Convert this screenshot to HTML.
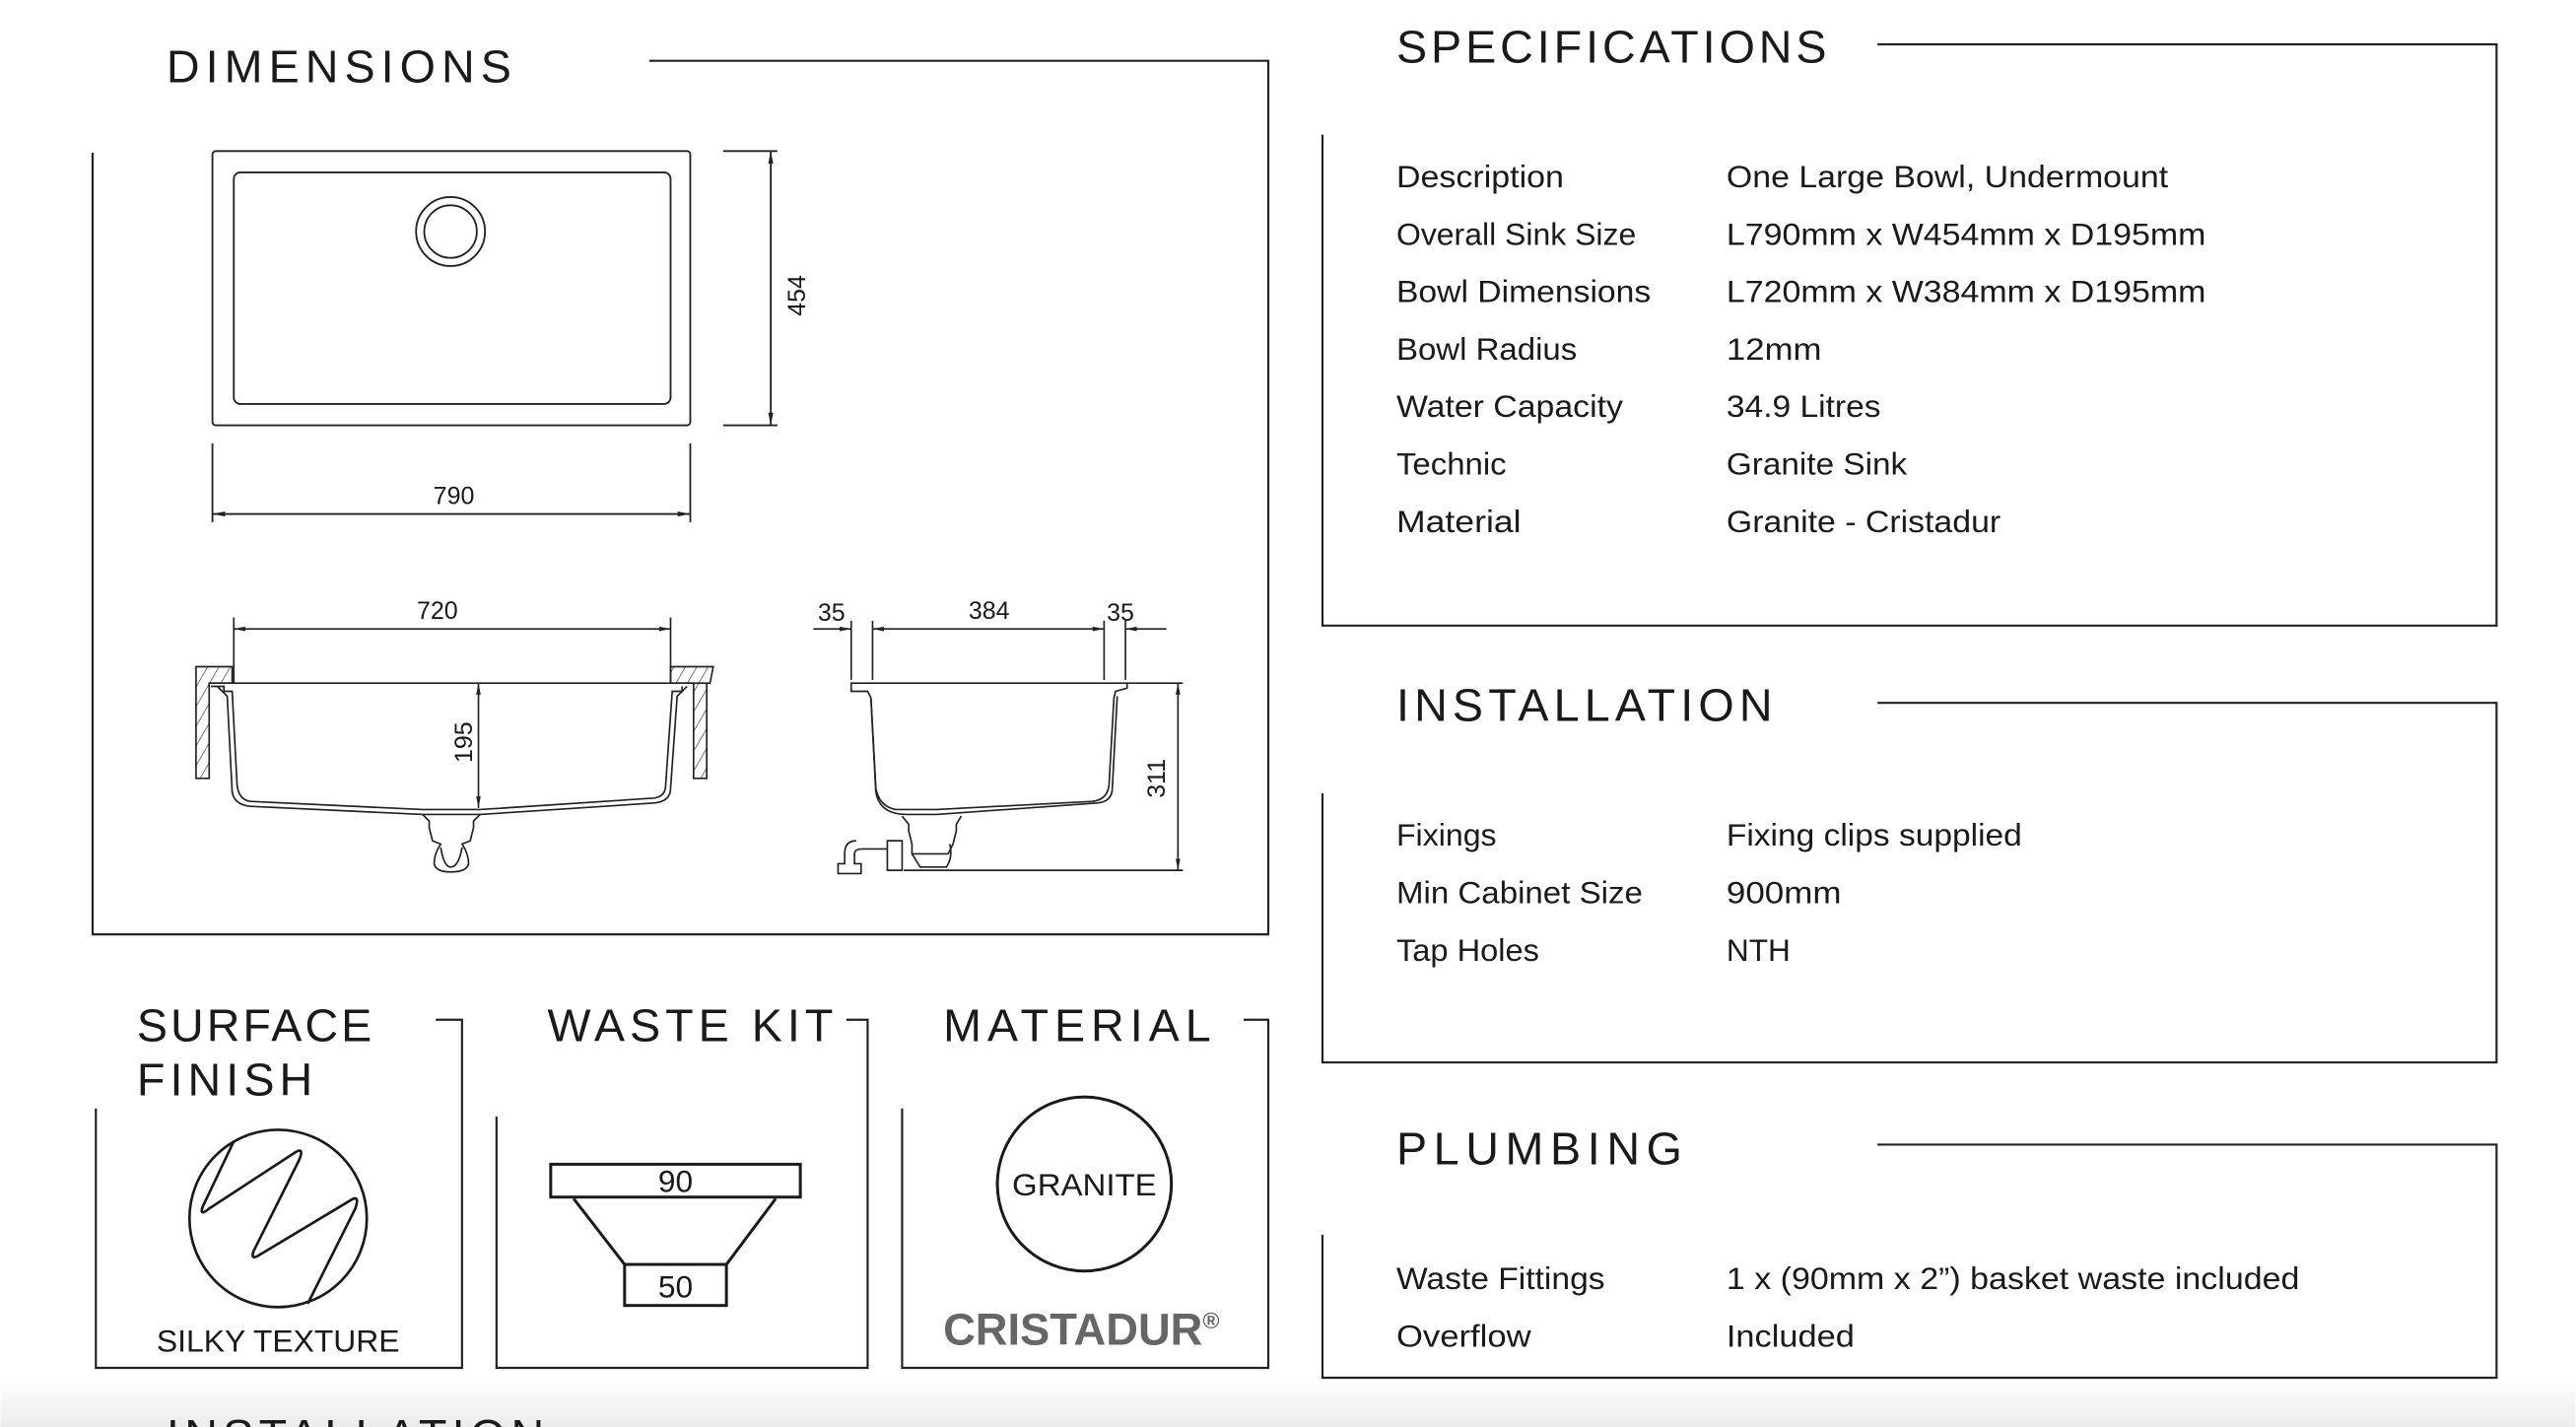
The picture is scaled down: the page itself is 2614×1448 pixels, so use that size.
<!DOCTYPE html>
<html><head><meta charset="utf-8"><style>
html,body{margin:0;padding:0;background:#fff;width:2614px;height:1448px;overflow:hidden}
svg{display:block}
text{font-family:"Liberation Sans",sans-serif;fill:#1a1a1a}
.h{font-size:28px}
.r{font-size:19px}
.d{font-size:15px}
</style></head><body>
<svg width="2614" height="1448" viewBox="0 0 1568 869" xmlns="http://www.w3.org/2000/svg">
<defs>
<linearGradient id="g" x1="0" y1="0" x2="0" y2="1"><stop offset="0" stop-color="#fff"/><stop offset="1" stop-color="#ececec"/></linearGradient>
<marker id="a" viewBox="0 0 10 10" refX="10" refY="5" markerWidth="7" markerHeight="7" orient="auto-start-reverse"><path d="M0,3 L10,5 L0,7 z" fill="#222"/></marker>
<pattern id="hat" width="6" height="6" patternUnits="userSpaceOnUse" patternTransform="rotate(30)"><line x1="0" y1="0" x2="0" y2="6" stroke="#333" stroke-width="0.8"/></pattern>
</defs>
<rect x="0" y="838" width="1568" height="31" fill="url(#g)"/>
<text x="101" y="884" class="h" textLength="230" lengthAdjust="spacing">INSTALLATION</text>

<g fill="none" stroke="#222" stroke-width="1.3">
<polyline points="395,37 772,37 772,569 56,569 56,93"/>
<polyline points="1143,27 1520,27 1520,381 805,381 805,82"/>
<polyline points="1143,428 1520,428 1520,647 805,647 805,483"/>
<polyline points="1143,697 1520,697 1520,839 805,839 805,752"/>
<polyline points="265,621 281,621 281,833 58,833 58,675"/>
<polyline points="515,621 528,621 528,833 302,833 302,680"/>
<polyline points="757,621 772,621 772,833 549,833 549,675"/>
</g>

<text x="101" y="50" class="h" textLength="210" lengthAdjust="spacing">DIMENSIONS</text>
<text x="850" y="38" class="h" textLength="262" lengthAdjust="spacing">SPECIFICATIONS</text>
<text x="850" y="439" class="h" textLength="229" lengthAdjust="spacing">INSTALLATION</text>
<text x="850" y="709" class="h" textLength="174" lengthAdjust="spacing">PLUMBING</text>
<text x="83" y="634" class="h" textLength="143" lengthAdjust="spacing">SURFACE</text>
<text x="83" y="667" class="h" textLength="107" lengthAdjust="spacing">FINISH</text>
<text x="333" y="634" class="h" textLength="174" lengthAdjust="spacing">WASTE KIT</text>
<text x="574" y="634" class="h" textLength="163" lengthAdjust="spacing">MATERIAL</text>

<g class="r">
<text x="850" y="114" class="r" textLength="102" lengthAdjust="spacingAndGlyphs">Description</text>
<text x="1051" y="114" class="r" textLength="269" lengthAdjust="spacingAndGlyphs">One Large Bowl, Undermount</text>
<text x="850" y="149" class="r" textLength="146" lengthAdjust="spacingAndGlyphs">Overall Sink Size</text>
<text x="1051" y="149" class="r" textLength="292" lengthAdjust="spacingAndGlyphs">L790mm x W454mm x D195mm</text>
<text x="850" y="184" class="r" textLength="155" lengthAdjust="spacingAndGlyphs">Bowl Dimensions</text>
<text x="1051" y="184" class="r" textLength="292" lengthAdjust="spacingAndGlyphs">L720mm x W384mm x D195mm</text>
<text x="850" y="219" class="r" textLength="110" lengthAdjust="spacingAndGlyphs">Bowl Radius</text>
<text x="1051" y="219" class="r" textLength="58" lengthAdjust="spacingAndGlyphs">12mm</text>
<text x="850" y="254" class="r" textLength="138" lengthAdjust="spacingAndGlyphs">Water Capacity</text>
<text x="1051" y="254" class="r" textLength="94" lengthAdjust="spacingAndGlyphs">34.9 Litres</text>
<text x="850" y="289" class="r" textLength="67" lengthAdjust="spacingAndGlyphs">Technic</text>
<text x="1051" y="289" class="r" textLength="110" lengthAdjust="spacingAndGlyphs">Granite Sink</text>
<text x="850" y="324" class="r" textLength="76" lengthAdjust="spacingAndGlyphs">Material</text>
<text x="1051" y="324" class="r" textLength="167" lengthAdjust="spacingAndGlyphs">Granite - Cristadur</text>
<text x="850" y="515" class="r" textLength="61" lengthAdjust="spacingAndGlyphs">Fixings</text>
<text x="1051" y="515" class="r" textLength="180" lengthAdjust="spacingAndGlyphs">Fixing clips supplied</text>
<text x="850" y="550" class="r" textLength="150" lengthAdjust="spacingAndGlyphs">Min Cabinet Size</text>
<text x="1051" y="550" class="r" textLength="70" lengthAdjust="spacingAndGlyphs">900mm</text>
<text x="850" y="585" class="r" textLength="87" lengthAdjust="spacingAndGlyphs">Tap Holes</text>
<text x="1051" y="585" class="r" textLength="39" lengthAdjust="spacingAndGlyphs">NTH</text>
<text x="850" y="785" class="r" textLength="127" lengthAdjust="spacingAndGlyphs">Waste Fittings</text>
<text x="1051" y="785" class="r" textLength="349" lengthAdjust="spacingAndGlyphs">1 x (90mm x 2”) basket waste included</text>
<text x="850" y="820" class="r" textLength="82" lengthAdjust="spacingAndGlyphs">Overflow</text>
<text x="1051" y="820" class="r" textLength="78" lengthAdjust="spacingAndGlyphs">Included</text>
</g>

<g fill="none" stroke="#222" stroke-width="1.1">
<rect x="129" y="92" width="291" height="167" rx="2"/>
<rect x="142" y="105" width="266" height="141" rx="4"/>
<circle cx="274" cy="141" r="21"/>
<circle cx="274" cy="141" r="16"/>
<line x1="440" y1="92" x2="473" y2="92"/>
<line x1="440" y1="259" x2="473" y2="259"/>
<line x1="469" y1="92" x2="469" y2="259" marker-start="url(#a)" marker-end="url(#a)"/>
<line x1="129" y1="270" x2="129" y2="318"/>
<line x1="420" y1="270" x2="420" y2="318"/>
<line x1="129" y1="313" x2="420" y2="313" marker-start="url(#a)" marker-end="url(#a)"/>
</g>
<text class="d" transform="translate(490,180) rotate(-90)" text-anchor="middle">454</text>
<text class="d" x="276" y="307" text-anchor="middle">790</text>

<g fill="none" stroke="#222" stroke-width="1">
<line x1="142" y1="376" x2="142" y2="416"/>
<line x1="408" y1="376" x2="408" y2="416"/>
<line x1="142" y1="383" x2="408" y2="383" marker-start="url(#a)" marker-end="url(#a)"/>
<path d="M119,406 H141 V416 H127 V474 H119 Z" fill="url(#hat)"/>
<path d="M408,406 H434 L432,416 H430 V474 H422 V416 H408 Z" fill="url(#hat)"/>
<line x1="127" y1="416" x2="430" y2="416"/>
<path d="M128,418 H136 V421 L141,421 L144,478 Q145,487 152,488 L257,493 L292,493 L398,486 Q405,485 405,478 L409,421 L415,421 V418"/>
<path d="M132,418 L138,424 L141,482 Q142,490 152,491 L257,496 L292,496 L398,489 Q408,488 408,480 L412,424 L418,418"/>
<path d="M257,496 L261,500 V504 L263,512 L268,514 Q264,520 264,526 Q265,531 274,531 Q284,531 285,526 Q285,520 281,514 L286,512 L288,504 V500 L292,496"/>
<path d="M268,516 Q270,528 274,528 Q279,528 281,516"/>
<line x1="291" y1="416" x2="291" y2="492" marker-start="url(#a)" marker-end="url(#a)"/>
</g>
<text class="d" transform="translate(287,452) rotate(-90)" text-anchor="middle">195</text>
<text class="d" x="266" y="377" text-anchor="middle">720</text>

<g fill="none" stroke="#222" stroke-width="1">
<line x1="518" y1="378" x2="518" y2="414"/>
<line x1="531" y1="378" x2="531" y2="414"/>
<line x1="672" y1="378" x2="672" y2="414"/>
<line x1="685" y1="378" x2="685" y2="414"/>
<line x1="495" y1="383" x2="518" y2="383" marker-end="url(#a)"/>
<line x1="531" y1="383" x2="672" y2="383" marker-start="url(#a)" marker-end="url(#a)"/>
<line x1="685" y1="383" x2="710" y2="383" marker-start="url(#a)"/>
<path d="M518,421 V416 H686 V419 L679,421 L678,425 L675,478 Q674,487 665,488 L570,493 L545,493 Q535,491 533,480 L530,425 L528,421 Z"/>
<path d="M530,425 L533,482 Q535,496 552,496 L570,496 L668,489 Q677,488 677,480 L680,424"/>
<path d="M549,497 L553,502 V506 L555,514 L555,520 L577,520 L580,514 L582,506 V502 L585,497"/>
<path d="M555,520 L560,528 L576,528 Q580,522 578,514"/>
<path d="M540,512 H549 V530 H540 Z M521,512 Q514,512 514,520 V526 H510 V532 H524 V526 H520 V520 Q520,517 525,517 H540"/>
<line x1="686" y1="416" x2="720" y2="416"/>
<line x1="550" y1="530" x2="720" y2="530"/>
<line x1="717" y1="416" x2="717" y2="530" marker-start="url(#a)" marker-end="url(#a)"/>
</g>
<text class="d" x="506" y="378" text-anchor="middle">35</text>
<text class="d" x="602" y="377" text-anchor="middle">384</text>
<text class="d" x="682" y="378" text-anchor="middle">35</text>
<text class="d" transform="translate(709,474) rotate(-90)" text-anchor="middle">311</text>

<g fill="none" stroke="#1a1a1a" stroke-width="1.6" stroke-linejoin="round">
<ellipse cx="169" cy="742" rx="54" ry="54"/>
<path d="M142,695 L123,735 Q121,741 127,736 L179,702 Q185,698 182,706 L154,762 Q152,768 158,764 L213,731 Q219,727 216,736 L187,794"/>
</g>
<text x="169" y="823" text-anchor="middle" class="r" textLength="148" lengthAdjust="spacingAndGlyphs">SILKY TEXTURE</text>

<g fill="none" stroke="#1a1a1a" stroke-width="1.8">
<rect x="335" y="709" width="152" height="20"/>
<polyline points="349,730 380,770"/>
<polyline points="472,730 442,770"/>
<rect x="380" y="770" width="62" height="25"/>
</g>
<text x="411" y="726" text-anchor="middle" class="r">90</text>
<text x="411" y="790" text-anchor="middle" class="r">50</text>

<circle cx="660" cy="721" r="53" fill="none" stroke="#1a1a1a" stroke-width="1.8"/>
<text x="660" y="728" text-anchor="middle" class="r" textLength="88" lengthAdjust="spacingAndGlyphs">GRANITE</text>
<text x="574" y="819" style="font-size:27px;font-weight:bold;fill:#666" textLength="158" lengthAdjust="spacingAndGlyphs">CRISTADUR</text>
<text x="732" y="809" style="font-size:14px;font-weight:bold;fill:#666">®</text>
</svg>
</body></html>
